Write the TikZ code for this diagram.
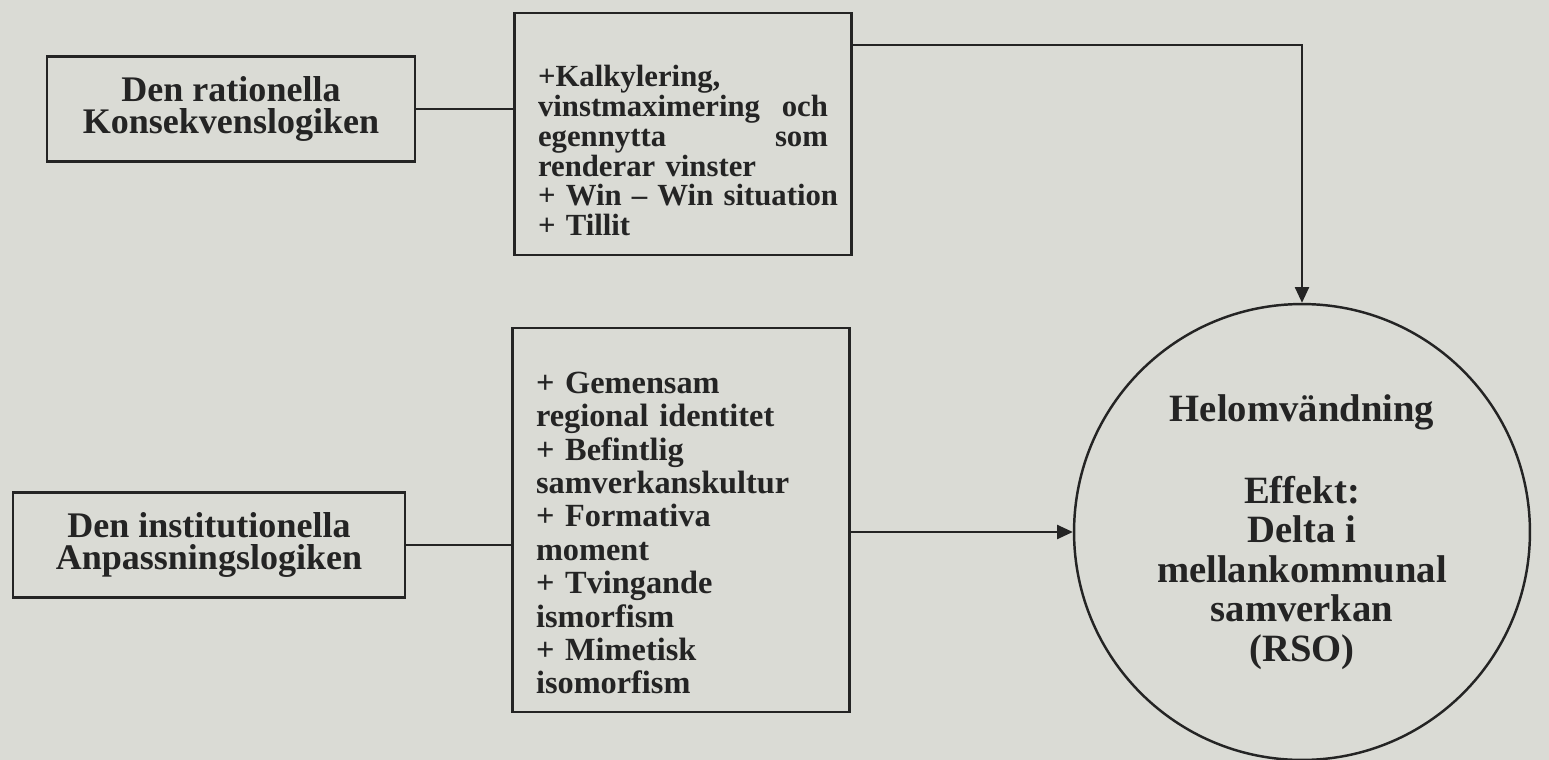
\documentclass[tikz,border=0pt]{standalone}
\usepackage{fontspec}
\setmainfont{Liberation Serif}
\usetikzlibrary{arrows.meta,positioning}
\definecolor{paper}{RGB}{218,219,213}
\definecolor{ink}{RGB}{36,36,36}
\tikzset{
  logicbox/.style={draw=ink, line width=1.6pt, align=center, text=ink,
    font=\bfseries\fontsize{20.5}{18.5}\selectfont},
  listbox/.style={draw=ink, line width=1.6pt, align=left, text=ink,
    text width=5.8cm, inner xsep=0.47cm},
  effectcircle/.style={circle, draw=ink, line width=1.4pt, align=center, text=ink,
    minimum size=9.12cm, inner sep=0pt, font=\bfseries\fontsize{22}{22.5}\selectfont},
  link/.style={draw=ink, line width=1.3pt},
  linkarrow/.style={link, -{Triangle[length=9pt,width=8pt]}}
}
\begin{document}
\begin{tikzpicture}[x=0.02cm,y=-0.02cm]
  \fill[paper] (0,0) rectangle (1549,760);
  \useasboundingbox (0,0) rectangle (1549,760);

  \node[logicbox, minimum width=7.36cm, minimum height=2.1cm] (rational) at (231,109)
    {Den rationella\\Konsekvenslogiken};
  \node[logicbox, minimum width=7.84cm, minimum height=2.1cm] (institutional) at (209,545)
    {Den institutionella\\Anpassningslogiken};

  \node[listbox, minimum height=4.84cm, font=\bfseries\fontsize{17.5}{17}\selectfont] (gains) at (683,134)
    {\rule{0pt}{31pt}+Kalkylering,\\
     vinstmaximering\hfill och\\
     egennytta\hfill som\\
     renderar vinster\\
     \mbox{+ Win -- Win situation}\\
     + Tillit};
  \node[listbox, minimum height=7.68cm, font=\bfseries\fontsize{18.4}{19}\selectfont] (norms) at (681,520)
    {\rule{0pt}{27pt}+ Gemensam\\
     regional identitet\\
     + Befintlig\\
     samverkanskultur\\
     + Formativa\\
     moment\\
     + Tvingande\\
     ismorfism\\
     + Mimetisk\\
     isomorfism};

  \node[effectcircle] (turn) at (1302,532)
    {Helomvändning\\[24pt]
     Effekt:\\
     Delta i\\
     mellankommunal\\
     samverkan\\
     (RSO)};

  \coordinate (corner) at (1302,45);
  \draw[link] (rational.east) -- (rational.east -| gains.west);
  \draw[linkarrow] (gains.east |- corner) -- (corner) -- (turn.north);
  \draw[link] (institutional.east) -- (institutional.east -| norms.west);
  \draw[linkarrow] (norms.east |- turn.west) -- (turn.west);
\end{tikzpicture}
\end{document}
